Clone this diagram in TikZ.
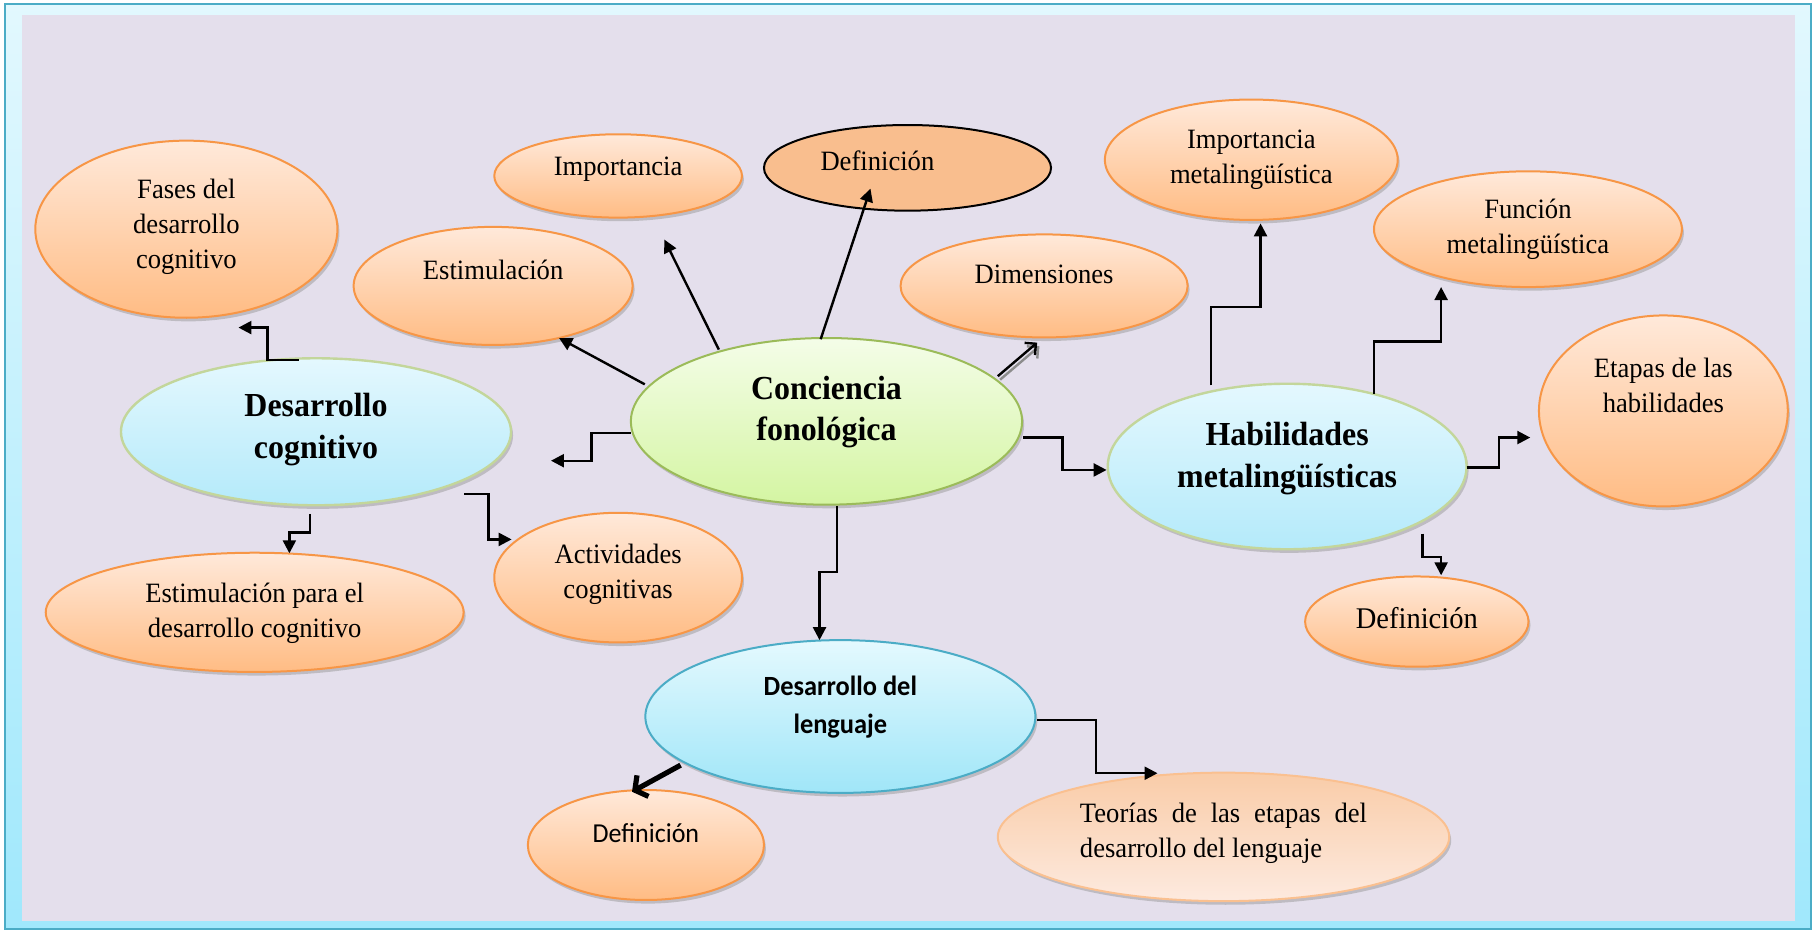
\documentclass[tikz,border=0pt]{standalone}
\usepackage{fontspec}
\setmainfont{Liberation Serif}[FakeStretch=0.95]
\newfontfamily\calib{Carlito}[FakeStretch=0.95]
\usetikzlibrary{shapes.geometric,arrows.meta,shadows,calc}
\newlength\uu \setlength\uu{0.57875pt}
\definecolor{orLine}{HTML}{F79646}
\definecolor{orT}{HTML}{FFE9DA}
\definecolor{orB}{HTML}{FFBC84}
\definecolor{bluT}{HTML}{E4F8FE}
\definecolor{bluB}{HTML}{B4EAFA}
\definecolor{bluLine}{HTML}{C3D69B}
\definecolor{grnT}{HTML}{F4FDE8}
\definecolor{grnB}{HTML}{D4F5A2}
\definecolor{grnLine}{HTML}{9BBB59}
\definecolor{ddlT}{HTML}{E4F9FE}
\definecolor{ddlB}{HTML}{A0E6F8}
\definecolor{tealLine}{HTML}{4BACC6}
\definecolor{defF}{HTML}{F9BE8E}
\definecolor{teoLine}{HTML}{FAC090}
\definecolor{teoT}{HTML}{F9CCA8}
\definecolor{teoB}{HTML}{FDEADF}
\definecolor{bandT}{HTML}{E2F8FE}
\definecolor{bandB}{HTML}{A0E8FC}
\definecolor{lav}{HTML}{E4DFEC}
% #1 name, #2 shape style, #3 text style, #4 x, #5 y, #6 width, #7 height, #8 text offset (dx,dy; y down), #9 text
\newcommand\bub[9]{%
  \node[#2, minimum width={#6*\uu}, minimum height={#7*\uu}] (#1) at (#4,#5) {};
  \node[#3] (#1t) at ($(#1.center)+(#8)$) {#9};
}
\begin{document}
\begin{tikzpicture}[x=0.57875pt,y=-0.57875pt,
  shd/.style={drop shadow={shadow xshift=1pt,shadow yshift=-1.8pt,fill=black!40}},
  orng/.style={ellipse,draw=orLine,line width=1pt,top color=orT,bottom color=orB,shd,inner sep=0pt},
  blu/.style={ellipse,draw=bluLine,line width=1.2pt,top color=bluT,bottom color=bluB,shd,inner sep=0pt},
  grn/.style={ellipse,draw=grnLine,line width=1pt,top color=grnT,bottom color=grnB,shd,inner sep=0pt},
  ddlst/.style={ellipse,draw=tealLine,line width=1pt,top color=ddlT,bottom color=ddlB,shd,inner sep=0pt},
  defst/.style={ellipse,draw=black,line width=1pt,fill=defF,inner sep=0pt},
  teost/.style={ellipse,draw=teoLine,line width=1pt,top color=teoT,bottom color=teoB,shd,inner sep=0pt},
  txt/.style={align=center,inner sep=0pt,font=\fontsize{14}{17.6}\selectfont},
  txtbig/.style={align=center,inner sep=0pt,font=\fontsize{15}{17.6}\selectfont},
  txtb/.style={align=center,inner sep=0pt,font=\fontsize{16.8}{20.8}\selectfont\bfseries},
  txts/.style={align=center,inner sep=0pt,font=\calib\fontsize{13.7}{19}\selectfont},
  txtsb/.style={align=center,inner sep=0pt,font=\calib\bfseries\fontsize{13.9}{19.1}\selectfont},
  txtl/.style={align=left,inner sep=0pt,font=\fontsize{14}{17.6}\selectfont},
  conn/.style={line width=1.2pt,line join=miter,-{Triangle[length=6.5pt,width=6.5pt]}},
  barb/.style={line width=1.2pt,-{Straight Barb[length=4pt,width=8pt]}},
  thickarr/.style={line width=2.6pt,-{Straight Barb[length=4.5pt,width=12pt]}},
]
\useasboundingbox (0,0) rectangle (1568,804);
% frame
\fill[top color=bandT,bottom color=bandB] (4.3,3.5) rectangle (1564.6,802.6);
\draw[tealLine,line width=1.3pt] (4.3,3.5) rectangle (1564.6,802.6);
\fill[lav] (19,13) rectangle (1550.8,795.7);

% bubbles
\bub{fases}{orng}{txt}{161}{198}{261}{153}{0,-2}{Fases del\\desarrollo\\cognitivo}
\bub{estim}{orng}{txt}{426}{247}{241}{102}{0,-14}{Estimulación}
\bub{imp}{orng}{txt}{534}{152}{214}{72}{0,-6}{Importancia}
\bub{def1}{defst}{txt}{784}{145}{248}{74}{-26,-6}{Definición}
\bub{dim}{orng}{txt}{902}{247}{248}{89}{0,-10}{Dimensiones}
\bub{impm}{orng}{txt}{1081}{138}{253}{104}{0,0}{Importancia\\metalingüística}
\bub{func}{orng}{txt}{1320}{198}{266}{100}{0,0}{Función\\metalingüística}
\bub{etap}{orng}{txt}{1437}{355}{215}{165}{0,-22}{Etapas de las\\habilidades}
\bub{hab}{blu}{txtb}{1112}{403}{310}{143}{0,-7}{Habilidades\\metalingüísticas}
\bub{def2}{orng}{txtbig}{1224}{537}{193}{78}{0,-3}{Definición}
\bub{cf}{grn}{txtb}{714}{364}{338}{144}{0,-8}{Conciencia\\fonológica}
\bub{dc}{blu}{txtb}{273}{373}{337}{127}{0,-2}{Desarrollo\\cognitivo}
\bub{estdc}{orng}{txt}{220}{529}{361}{103}{0,1}{Estimulación para el\\desarrollo cognitivo}
\bub{act}{orng}{txt}{534}{499}{214}{112}{0,-3}{Actividades\\cognitivas}
\bub{ddl}{ddlst}{txtsb}{726}{619}{337}{132}{0,-8}{Desarrollo del\\lenguaje}
\bub{def3}{orng}{txts}{558}{730}{204}{95}{0,-10}{Definición}
\bub{teo}{teost}{txtl}{1057}{723}{390}{111}{0,-3}{\hbox to 248\uu{Teorías\hfill de\hfill las\hfill etapas\hfill del}\\desarrollo del lenguaje}

% connectors
\draw[conn] ($(dc)+(-15,-62)$) -- ++(-27,0) |- ($(fases)+(45,85)$);
\draw[conn] ($(cf)+(-157,-32)$) -- ($(estim)+(57,45)$);
\draw[conn] ($(cf)+(-93,-62)$) -- ($(imp)+(40,55)$);
\draw[conn] ($(cf)+(-5,-71)$) -- ($(def1)+(-32,18)$);
\draw[barb,black!45] ($(cf)+(150,-36)$) -- ($(dim)+(-4,52)$);
\draw[barb] ($(cf)+(148,-39)$) -- ($(dim)+(-6,49)$);
\draw[conn] ($(cf)+(-169,10)$) -- ++(-34,0) |- ($(dc)+(203,25)$);
\draw[conn] ($(dc)+(128,54)$) -- ++(21,0) |- ($(act)+(-92,-33)$);
\draw[conn] ($(dc)+(-5,71)$) -- ++(0,16) -| ($(estdc)+(30,-51)$);
\draw[conn] ($(cf)+(170,14)$) -- ++(34,0) |- ($(hab)+(-156,3)$);
\draw[conn] ($(cf)+(9,73)$) -- ++(0,57) -| ($(ddl)+(-18,-66)$);
\draw[conn] ($(hab)+(-66,-70)$) -- ++(0,-68) -| ($(impm)+(8,55)$);
\draw[conn] ($(hab)+(75,-63)$) -- ++(0,-45) -| ($(func)+(-75,50)$);
\draw[conn] ($(hab)+(155,1)$) -- ++(28,0) |- ($(etap)+(-115,23)$);
\draw[conn] ($(hab)+(117,58)$) -- ++(0,20) -| ($(def2)+(21,-40)$);
\draw[thickarr] ($(ddl)+(-138,42)$) -- ($(def3)+(-12,-46)$);
\draw[conn] ($(ddl)+(170,3)$) -- ++(51,0) |- ($(teo)+(-57,-55)$);
\end{tikzpicture}
\end{document}
